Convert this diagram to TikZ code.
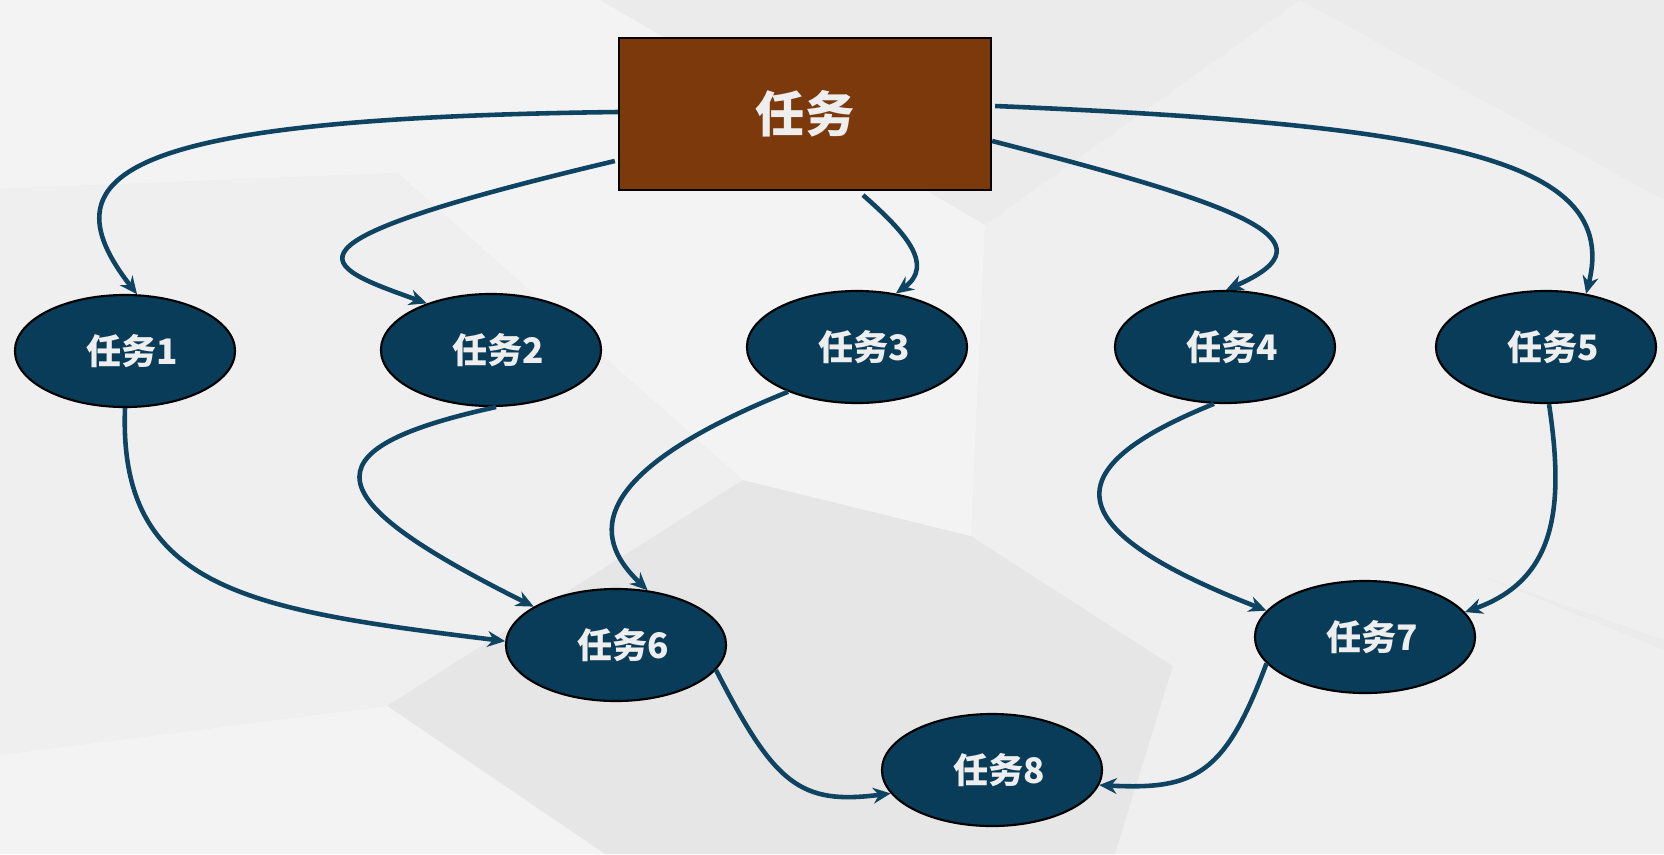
\documentclass[tikz,border=0pt]{standalone}
\usepackage{fontspec}
\newfontfamily\cjk{Noto Sans CJK SC}
\usetikzlibrary{shapes.geometric,arrows.meta}
\definecolor{bgbase}{HTML}{EBEBEB}
\definecolor{bglight}{HTML}{F3F3F3}
\definecolor{bgmid}{HTML}{EFEFEF}
\definecolor{bgdark}{HTML}{E6E6E6}
\definecolor{rootbrown}{HTML}{7B390C}
\definecolor{taskblue}{HTML}{083C58}
\definecolor{linkblue}{HTML}{0E4462}
\definecolor{labelwhite}{HTML}{EEEEEE}
\begin{document}
\begin{tikzpicture}[x=0.01cm, y=-0.01cm,
    root/.style={rectangle, draw=black, line width=0.6pt, fill=rootbrown,
        minimum width=3.72cm, minimum height=1.52cm, text=labelwhite,
        font=\cjk\bfseries\fontsize{14}{16}\selectfont},
    task/.style={ellipse, draw=black, line width=0.6pt, fill=taskblue,
        minimum width=2.2cm, minimum height=1.12cm, inner sep=0pt,
        text=labelwhite, font=\cjk\bfseries\fontsize{10}{12}\selectfont,
        execute at begin node=\hspace*{0.14cm}},
    link/.style={draw=linkblue, line width=1.3pt,
        -{Stealth[length=5pt,width=4.5pt]}}]
        % Background
        \fill[bgbase] (0,0) rectangle (1664,854);
        \fill[bglight] (0,0) -- (106,0) -- (398,173) -- (0,189) -- cycle;
        \fill[bgmid] (0,189) -- (398,173) -- (743,480) -- (387,706) -- (0,755) -- cycle;
        \fill[bglight] (106,0) -- (600,0) -- (398,173) -- cycle;
        \fill[bgdark] (743,480) -- (971,536) -- (1173,666) -- (1115,854) -- (605,854) -- (387,706) -- cycle;
        \fill[bgmid] (971,536) -- (985,225) -- (1300,0) -- (1664,200) -- (1664,640) -- (1480,575) -- (1173,666) -- cycle;
        \fill[bglight] (0,755) -- (387,706) -- (605,854) -- (0,854) -- cycle;
        \fill[bgmid] (1173,666) -- (1480,575) -- (1664,650) -- (1664,854) -- (1115,854) -- cycle;
        \fill[bglight] (398,173) -- (600,0) -- (985,225) -- (971,536) -- (743,480) -- cycle;

        % Root task
        \node[root] (root) at (805,114) {任务};

        % Subtasks
        \node[task] (t1) at (125,351) {任务1};
        \node[task] (t2) at (491,350) {任务2};
        \node[task] (t3) at (857,347) {任务3};
        \node[task] (t4) at (1225,347) {任务4};
        \node[task] (t5) at (1546,347) {任务5};
        \node[task] (t6) at (616,645) {任务6};
        \node[task] (t7) at (1365,637) {任务7};
        \node[task] (t8) at (992,770) {任务8};

        % Connections
        \draw[link] ([shift={(0,-2)}]root.west) .. controls (130,118) and (40,170) .. (t1.78);
        \draw[link] ([shift={(-3,47)}]root.west) .. controls (260,245) and (320,265) .. (t2.144);
        \draw[link] ([shift={(58,4)}]root.south) .. controls (905,232) and (935,265) .. (t3.54);
        \draw[link] ([shift={(0,27)}]root.east) .. controls (1240,205) and (1340,240) .. (t4.89);
        \draw[link] ([shift={(3,-8)}]root.east) .. controls (1450,125) and (1620,160) .. (t5.53);
        \draw[link] (t1.270) .. controls (118,590) and (250,610) .. (t6.178);
        \draw[link] (t2.275) .. controls (300,450) and (320,500) .. (t6.155);
        \draw[link] (t3.213) .. controls (570,480) and (600,545) .. (t6.60);
        \draw[link] (t4.259) .. controls (1050,470) and (1060,530) .. (t7.165);
        \draw[link] (t5.273) .. controls (1565,510) and (1555,580) .. (t7.14);
        \draw[link] (t6.346) .. controls (775,785) and (800,805) .. (t8.193);
        \draw[link] (t7.195) .. controls (1225,775) and (1195,790) .. (t8.352);
\end{tikzpicture}
\end{document}
